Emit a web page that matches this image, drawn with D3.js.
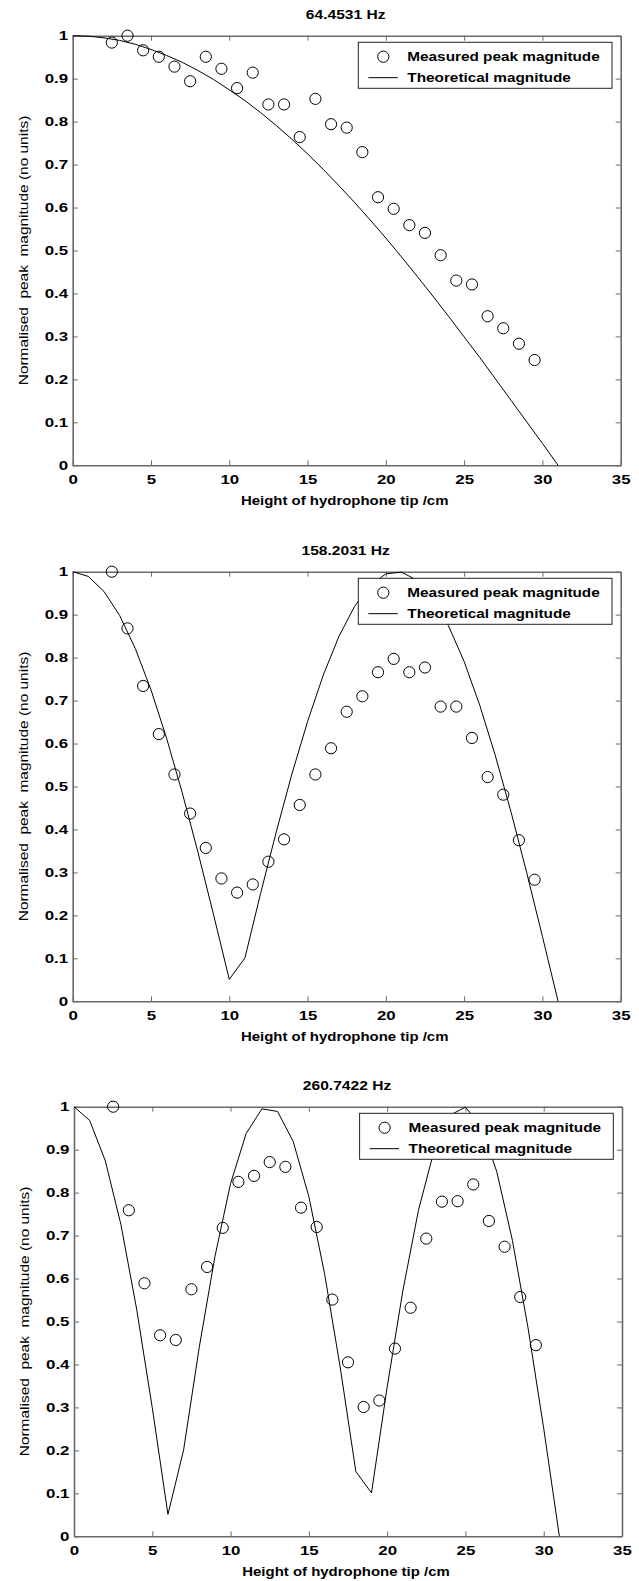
<!DOCTYPE html>
<html>
<head>
<meta charset="utf-8">
<script src="https://cdn.jsdelivr.net/npm/d3@7/dist/d3.min.js"></script>
<style>
  body { margin: 0; background: #fff; }
  svg text { font-family: "Liberation Sans", Arial, sans-serif; fill: #000; }
</style>
</head>
<body>
<script>
// chart size
var w = 639;
var h = 1581;

// ---- data ----
var titles = ["64.4531 Hz", "158.2031 Hz", "260.7422 Hz"];

// heights where the peak magnitude was measured (cm)
var measuredHeights = [2.5, 3.5, 4.5, 5.5, 6.5, 7.5, 8.5, 9.5, 10.5, 11.5, 12.5, 13.5, 14.5, 15.5,
                       16.5, 17.5, 18.5, 19.5, 20.5, 21.5, 22.5, 23.5, 24.5, 25.5, 26.5, 27.5, 28.5, 29.5];

var measured64 = [0.984, 1.0, 0.966, 0.951, 0.928, 0.894, 0.951, 0.923, 0.878, 0.914, 0.840, 0.840, 0.764, 0.853,
                  0.794, 0.786, 0.729, 0.624, 0.597, 0.559, 0.541, 0.489, 0.430, 0.421, 0.347, 0.319, 0.283, 0.245];

var measured158 = [1.0, 0.868, 0.734, 0.622, 0.528, 0.437, 0.357, 0.286, 0.253, 0.272, 0.325, 0.377, 0.457, 0.528,
                   0.589, 0.674, 0.710, 0.766, 0.797, 0.766, 0.777, 0.686, 0.686, 0.613, 0.522, 0.481, 0.375, 0.283];

var measured260 = [1.0, 0.759, 0.589, 0.468, 0.457, 0.575, 0.627, 0.718, 0.825, 0.839, 0.871, 0.860, 0.765, 0.720,
                   0.551, 0.405, 0.301, 0.316, 0.437, 0.532, 0.693, 0.779, 0.780, 0.819, 0.734, 0.674, 0.557, 0.445];

// heights of the theoretical curve vertices (cm)
var theoryHeights = [0, 1, 2, 3, 4, 5, 6, 7, 8, 9, 10, 11, 12, 13, 14, 15,
                     16, 17, 18, 19, 20, 21, 22, 23, 24, 25, 26, 27, 28, 29, 30, 31];

var theory64 = [1.0, 0.999, 0.995, 0.989, 0.980, 0.968, 0.954, 0.938, 0.919, 0.898, 0.874, 0.849, 0.821, 0.791, 0.759, 0.725,
                0.689, 0.651, 0.612, 0.571, 0.529, 0.485, 0.440, 0.394, 0.347, 0.299, 0.251, 0.201, 0.151, 0.101, 0.051, 0.0];

var theory158 = [1.0, 0.989, 0.954, 0.898, 0.821, 0.725, 0.612, 0.485, 0.347, 0.201, 0.051, 0.101, 0.251, 0.394, 0.529, 0.651,
                 0.759, 0.849, 0.919, 0.968, 0.995, 0.999, 0.980, 0.938, 0.874, 0.791, 0.689, 0.571, 0.440, 0.299, 0.151, 0.0];

var theory260 = [1.0, 0.968, 0.874, 0.725, 0.529, 0.299, 0.051, 0.201, 0.440, 0.651, 0.821, 0.938, 0.995, 0.989, 0.919, 0.791,
                 0.612, 0.394, 0.151, 0.101, 0.347, 0.571, 0.759, 0.898, 0.980, 0.999, 0.954, 0.849, 0.689, 0.485, 0.251, 0.0];

var xTicks = [0, 5, 10, 15, 20, 25, 30, 35];
var yTicks = [0, 0.1, 0.2, 0.3, 0.4, 0.5, 0.6, 0.7, 0.8, 0.9, 1];

var xLabel = "Height of hydrophone tip /cm";
var yLabel = "Normalised  peak  magnitude (no units)";
var legendLabels = ["Measured peak magnitude", "Theoretical magnitude"];

// ---- layout of the three panels ----
var panels = [
  {top: 35.7,   left: 72.7, measured: measured64,  theory: theory64},
  {top: 571.7,  left: 72.7, measured: measured158, theory: theory158},
  {top: 1106.7, left: 74,   measured: measured260, theory: theory260}
];
var pw = 548;
var ph = 429.6;

var frameColor = "#6a6a6a";

var svg = d3.select("body")
    .append("svg")
    .attr("width", w)
    .attr("height", h);

var x = d3.scaleLinear().domain([0, 35]).range([0, pw]);
var y = d3.scaleLinear().domain([0, 1]).range([ph, 0]);

var line = d3.line()
    .x(function(d) { return x(d[0]); })
    .y(function(d) { return y(d[1]); });

panels.forEach(function(p, i) {

    var g = svg.append("g")
        .attr("transform", "translate(" + p.left + "," + p.top + ")");

    // axes with inward ticks on all four sides
    var bottom = g.append("g")
        .attr("transform", "translate(0," + ph + ")")
        .call(d3.axisBottom(x).tickValues(xTicks).tickSizeInner(-5).tickSizeOuter(0).tickFormat(d3.format("d")));
    var left = g.append("g")
        .call(d3.axisLeft(y).tickValues(yTicks).tickSizeInner(-5).tickSizeOuter(0).tickFormat(function(d) { return d3.format("")(+d.toFixed(1)); }));
    g.append("g")
        .call(d3.axisTop(x).tickValues(xTicks).tickSizeInner(-5).tickSizeOuter(0).tickFormat(""));
    g.append("g")
        .attr("transform", "translate(" + pw + ",0)")
        .call(d3.axisRight(y).tickValues(yTicks).tickSizeInner(-5).tickSizeOuter(0).tickFormat(""));

    g.selectAll(".domain").attr("stroke", frameColor).attr("stroke-width", 1.6);
    g.selectAll(".tick line").attr("stroke", frameColor).attr("stroke-width", 1);

    bottom.selectAll(".tick text")
        .attr("y", 0)
        .attr("dy", null)
        .attr("transform", "translate(0,18.5) scale(1.3,1)")
        .attr("font-size", 13)
        .attr("font-weight", "bold")
        .attr("fill", "#000");
    left.selectAll(".tick text")
        .attr("x", 0)
        .attr("transform", "translate(-4.5,0) scale(1.3,1)")
        .attr("font-size", 13)
        .attr("font-weight", "bold")
        .attr("fill", "#000");

    // theoretical curve
    g.append("path")
        .datum(theoryHeights.map(function(t, k) { return [t, p.theory[k]]; }))
        .attr("d", line)
        .attr("fill", "none")
        .attr("stroke", "#000")
        .attr("stroke-width", 1);

    // measured points
    g.selectAll("circle.pt")
        .data(measuredHeights.map(function(t, k) { return [t, p.measured[k]]; }))
        .enter().append("circle")
        .attr("class", "pt")
        .attr("cx", function(d) { return x(d[0]); })
        .attr("cy", function(d) { return y(d[1]); })
        .attr("r", 5.6)
        .attr("fill", "none")
        .attr("stroke", "#000")
        .attr("stroke-width", 1);

    // title
    g.append("text")
        .attr("transform", "translate(" + (pw / 2 - 1) + ",-16.3) scale(1.2,1)")
        .attr("text-anchor", "middle")
        .attr("font-size", 13)
        .attr("font-weight", "bold")
        .text(titles[i]);

    // x label
    g.append("text")
        .attr("transform", "translate(" + (pw / 2 - 2) + "," + (ph + 40) + ") scale(1.15,1)")
        .attr("text-anchor", "middle")
        .attr("font-size", 13)
        .attr("font-weight", "bold")
        .text(xLabel);

    // y label
    g.append("text")
        .attr("transform", "translate(-45," + (ph / 2) + ") rotate(-90) scale(1.19,1)")
        .attr("text-anchor", "middle")
        .attr("font-size", 13)
        .style("white-space", "pre")
        .text(yLabel);

    // legend
    var lg = g.append("g")
        .attr("transform", "translate(" + (pw - 262.4) + ",6.6)");
    lg.append("rect")
        .attr("width", 253.7)
        .attr("height", 46)
        .attr("fill", "#fff")
        .attr("stroke", "#222")
        .attr("stroke-width", 1);
    lg.append("circle")
        .attr("cx", 25)
        .attr("cy", 14.4)
        .attr("r", 5.6)
        .attr("fill", "none")
        .attr("stroke", "#000");
    lg.append("line")
        .attr("x1", 10).attr("x2", 39.4)
        .attr("y1", 35.4).attr("y2", 35.4)
        .attr("stroke", "#000");
    lg.selectAll("text.lab")
        .data(legendLabels)
        .enter().append("text")
        .attr("class", "lab")
        .attr("transform", function(d, k) { return "translate(49," + (k === 0 ? 14.4 : 35.4) + ") scale(1.18,1)"; })
        .attr("dy", "0.36em")
        .attr("font-size", 13)
        .attr("font-weight", "bold")
        .text(function(d) { return d; });
});
</script>
</body>
</html>
